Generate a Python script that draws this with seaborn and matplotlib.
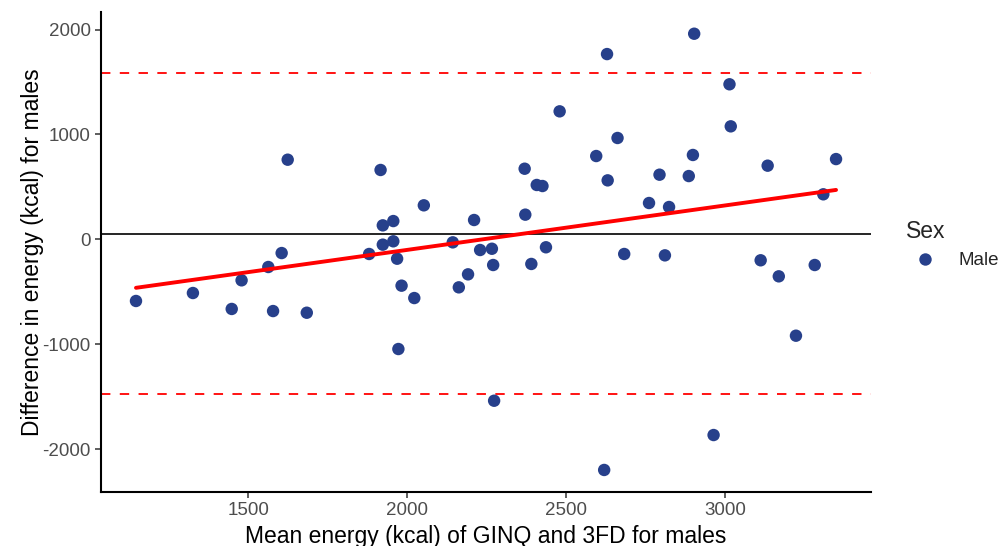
import pandas as pd
import matplotlib.pyplot as plt
import seaborn as sns

# Bland-Altman data
mean_energy = [1147, 1326, 1448, 1479, 1563, 1605, 1578, 1684, 1880, 1923,
               1956, 1968, 1982, 2022, 1972, 2143, 2162, 2191, 2229, 2266,
               2270, 2273, 1624, 1916, 2052, 1923, 1956, 2210, 2902, 2628,
               3013, 2479, 3017, 2661, 2594, 2898, 3348, 3133, 2369, 2793,
               2885, 2630, 2407, 2425, 2760, 2823, 2371, 3308, 2436, 2682,
               2810, 2390, 3111, 3168, 3281, 3222, 2963, 2619]
diff_energy = [-588, -512, -664, -391, -264, -131, -684, -700, -140, -51,
               -19, -185, -442, -560, -1046, -29, -458, -334, -102, -90,
               -245, -1539, 759, 661, 324, 133, 174, 184, 1960, 1766,
               1478, 1220, 1077, 966, 794, 804, 765, 702, 673, 616,
               603, 562, 518, 508, 346, 308, 235, 429, -76, -140,
               -153, -235, -200, -353, -245, -919, -1866, -2199]
sex = ['Male'] * len(mean_energy)

mean_diff = 48
upper_loa = 1588
lower_loa = -1478

df = pd.DataFrame({'mean': mean_energy, 'diff': diff_energy, 'Sex': sex})

sns.set_theme(style='ticks')
plt.rcParams['font.family'] = ['Liberation Sans', 'DejaVu Sans']
plt.rcParams['axes.unicode_minus'] = False

fig = plt.figure(figsize=(9.99, 5.46), dpi=100)
ax = fig.add_axes([0.1011, 0.0995, 0.7708, 0.8785])

ax.axhline(mean_diff, color='black', lw=1.2, zorder=1)
ax.axhline(upper_loa, color='red', lw=1.3, dashes=(5.2, 5.2), zorder=1)
ax.axhline(lower_loa, color='red', lw=1.3, dashes=(5.2, 5.2), zorder=1)

sns.scatterplot(data=df, x='mean', y='diff', hue='Sex', palette={'Male': '#27408B'},
                s=80, linewidth=0, ax=ax, zorder=3)
sns.regplot(data=df, x='mean', y='diff', scatter=False, ci=None, ax=ax,
            line_kws={'color': 'red', 'lw': 2.8, 'zorder': 4})

ax.set_xlim(1037, 3458)
ax.set_ylim(-2406, 2167)
ax.set_xticks([1500, 2000, 2500, 3000])
ax.set_yticks([-2000, -1000, 0, 1000, 2000])
ax.set_xlabel('Mean energy (kcal) of GINQ and 3FD for males', fontsize=16.5, color='black')
ax.set_ylabel('Difference in energy (kcal) for males', fontsize=16.5, color='black',
              labelpad=-1)
ax.tick_params(labelsize=13.5, labelcolor='#4D4D4D', color='#333333', length=4, width=1.1)
sns.despine(ax=ax)
for sp in ['left', 'bottom']:
    ax.spines[sp].set_linewidth(1.5)
    ax.spines[sp].set_color('black')

leg = ax.legend(title='Sex', loc='upper left', bbox_to_anchor=(0.898, 0.615),
                bbox_transform=fig.transFigure, frameon=False, fontsize=13.5,
                title_fontsize=16.5, alignment='left', markerscale=1.0,
                handletextpad=0.8, borderpad=0)
plt.savefig('out.png', dpi=100)
